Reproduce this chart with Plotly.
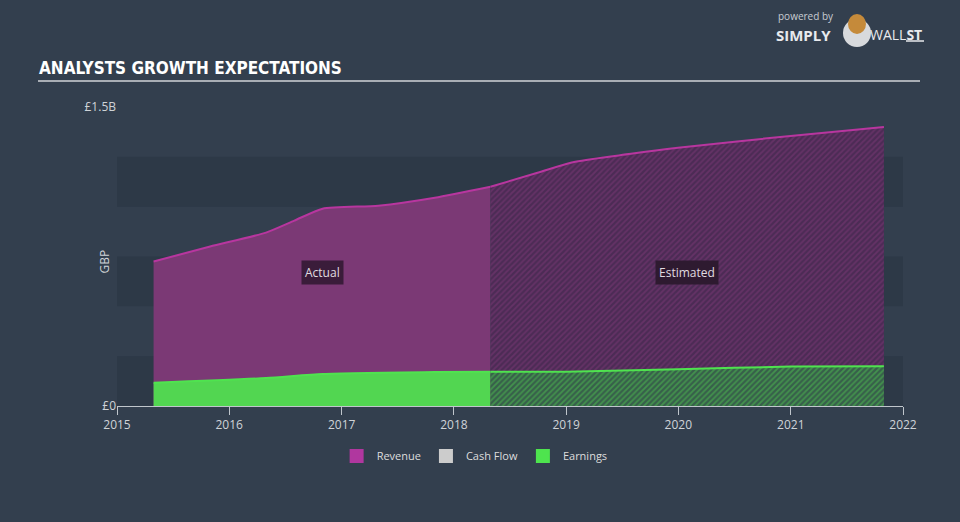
import plotly.graph_objects as go

# ---- data (values in GBP) ----
rev_actual_dates = ["2015-04-30", "2015-10-31", "2016-04-30", "2016-07-31", "2016-10-31", "2017-04-30", "2017-10-31", "2018-04-30"]
rev_actual_vals = [0.725e9, 0.80e9, 0.87e9, 0.93e9, 0.99e9, 1.005e9, 1.045e9, 1.10e9]
rev_est_dates = ["2018-04-30", "2018-09-30", "2019-01-31", "2019-07-31", "2019-12-31", "2020-12-31", "2021-10-31"]
rev_est_vals = [1.10e9, 1.17e9, 1.225e9, 1.265e9, 1.295e9, 1.355e9, 1.40e9]

earn_actual_dates = ["2015-04-30", "2016-04-30", "2016-10-31", "2017-10-31", "2018-04-30"]
earn_actual_vals = [0.117e9, 0.14e9, 0.16e9, 0.17e9, 0.172e9]
earn_est_dates = ["2018-04-30", "2018-12-31", "2019-12-31", "2020-12-31", "2021-10-31"]
earn_est_vals = [0.172e9, 0.172e9, 0.184e9, 0.198e9, 0.20e9]

year_ticks = ["2015-01-01", "2016-01-01", "2017-01-01", "2018-01-01", "2019-01-01", "2020-01-01", "2021-01-01", "2022-01-01"]
year_labels = ["2015", "2016", "2017", "2018", "2019", "2020", "2021", "2022"]
y_ticks = [0, 1.5e9]
y_labels = ["£0", "£1.5B"]
band_edges = [(0, 0.25e9), (0.5e9, 0.75e9), (1.0e9, 1.25e9)]
legend_names = ["Revenue", "Cash Flow", "Earnings"]
legend_colors = ["#b0379f", "#cccccc", "#4ee44e"]

BG = "#333f4e"
FONT = "Open Sans"
TITLE_FONT = "Liberation Sans Narrow, DejaVu Sans Condensed, Roboto Condensed, Arial Narrow, sans-serif"


def px(x):
    return (x - 117) / 786


def py(y):
    return (406 - y) / 299


fig = go.Figure()

# Revenue actual
fig.add_trace(go.Scatter(x=rev_actual_dates, y=rev_actual_vals, mode="lines",
                         line=dict(color="#b8369f", width=2, shape="spline", smoothing=0.6),
                         fill="tozeroy", fillcolor="#7b3975", showlegend=False, hoverinfo="skip"))
# Revenue estimated (hatched)
fig.add_trace(go.Scatter(x=rev_est_dates, y=rev_est_vals, mode="lines",
                         line=dict(color="#b8369f", width=2, shape="spline", smoothing=0.8),
                         fill="tozeroy", fillcolor="#4c2b55",
                         fillpattern=dict(shape="/", bgcolor="#4c2b55", fgcolor="#7e3a78", size=4, solidity=0.45),
                         showlegend=False, hoverinfo="skip"))
# Earnings actual
fig.add_trace(go.Scatter(x=earn_actual_dates, y=earn_actual_vals, mode="lines",
                         line=dict(color="#4fe34f", width=2, shape="spline", smoothing=0.6),
                         fill="tozeroy", fillcolor="#52d651", showlegend=False, hoverinfo="skip"))
# Earnings estimated (hatched)
fig.add_trace(go.Scatter(x=earn_est_dates, y=earn_est_vals, mode="lines",
                         line=dict(color="#4fe34f", width=2, shape="spline", smoothing=0.6),
                         fill="tozeroy", fillcolor="#37604a",
                         fillpattern=dict(shape="/", bgcolor="#37604a", fgcolor="#4fc450", size=4, solidity=0.45),
                         showlegend=False, hoverinfo="skip"))

# legend entries
for name, col in zip(legend_names, legend_colors):
    fig.add_trace(go.Scatter(x=[None], y=[None], mode="markers", name=name,
                             marker=dict(symbol="square", size=14, color=col)))

# background bands
for lo, hi in band_edges:
    fig.add_shape(type="rect", xref="paper", yref="y", x0=0, x1=1, y0=lo, y1=hi,
                  fillcolor="#2d3947", line=dict(width=0), layer="below")

# title underline
fig.add_shape(type="line", xref="paper", yref="paper", x0=px(38), x1=px(920), y0=py(81), y1=py(81),
              line=dict(color="#a9aeb5", width=2))

annotations = [
    dict(text="<b>ANALYSTS GROWTH EXPECTATIONS</b>", xref="paper", yref="paper", x=px(37), y=py(68),
         xanchor="left", yanchor="middle", showarrow=False,
         font=dict(family=TITLE_FONT, size=17, color="#ffffff")),
    dict(text="Actual", xref="x", yref="y", x="2016-10-30", y=0.67e9, showarrow=False,
         font=dict(family=FONT, size=12, color="#e0dce0"), bgcolor="#3a1c3a", borderpad=3),
    dict(text="Estimated", xref="x", yref="y", x="2020-01-30", y=0.67e9, showarrow=False,
         font=dict(family=FONT, size=12, color="#e0dce0"), bgcolor="#2e1a30", borderpad=3),
    dict(text="GBP", xref="paper", yref="paper", x=px(93), y=py(262), textangle=-90, showarrow=False,
         font=dict(family=FONT, size=12, color="#cfd3d8")),
    # logo
    dict(text="powered by", xref="paper", yref="paper", x=px(777), y=py(24),
         xanchor="left", yanchor="bottom", showarrow=False, borderpad=0,
         font=dict(family=FONT, size=10, color="#c8ccd2")),
    dict(text="<b>SIMPLY</b>", xref="paper", yref="paper", x=px(775), y=py(24),
         xanchor="left", yanchor="top", showarrow=False, borderpad=0,
         font=dict(family=FONT, size=15, color="#e8eaed")),
    dict(text="WALL<b>ST</b>", xref="paper", yref="paper", x=px(869), y=py(24),
         xanchor="left", yanchor="top", showarrow=False, borderpad=0,
         font=dict(family=FONT, size=14, color="#e8eaed")),
]

# bull logo approximation
fig.add_shape(type="circle", xref="paper", yref="paper",
              x0=px(843), x1=px(871), y0=py(47), y1=py(19),
              fillcolor="#d8dadd", line=dict(width=0))
fig.add_shape(type="circle", xref="paper", yref="paper",
              x0=px(848), x1=px(866), y0=py(34), y1=py(14),
              fillcolor="#c58a3a", line=dict(width=0))
fig.add_shape(type="line", xref="paper", yref="paper", x0=px(906), x1=px(924), y0=py(41), y1=py(41),
              line=dict(color="#e8eaed", width=1.5))

fig.update_layout(
    width=960, height=522,
    margin=dict(l=117, r=57, t=107, b=116),
    paper_bgcolor=BG, plot_bgcolor=BG,
    font=dict(family=FONT, size=12, color="#cfd3d8"),
    annotations=annotations,
    legend=dict(orientation="h", x=0.455, xanchor="center", y=py(456), yanchor="middle",
                font=dict(family=FONT, size=11, color="#dddddd"), bgcolor="rgba(0,0,0,0)",
                itemclick=False),
    showlegend=True,
)
fig.update_xaxes(type="date", range=["2015-01-01", "2022-01-01"], tickvals=year_ticks, ticktext=year_labels,
                 showgrid=False, zeroline=False, showline=True, linecolor="#c0c6cc", linewidth=1,
                 ticks="outside", ticklen=8, tickcolor="#c0c6cc",
                 tickfont=dict(family=FONT, size=12, color="#cfd3d8"))
fig.update_yaxes(range=[0, 1.5e9], tickvals=y_ticks, ticktext=y_labels, showgrid=False, zeroline=False,
                 showline=False, ticks="", tickfont=dict(family=FONT, size=12, color="#cfd3d8"))

fig.write_html("out.html", config={"displayModeBar": False},
               post_script="document.body.style.margin='0';document.body.style.background='#333f4e';")
